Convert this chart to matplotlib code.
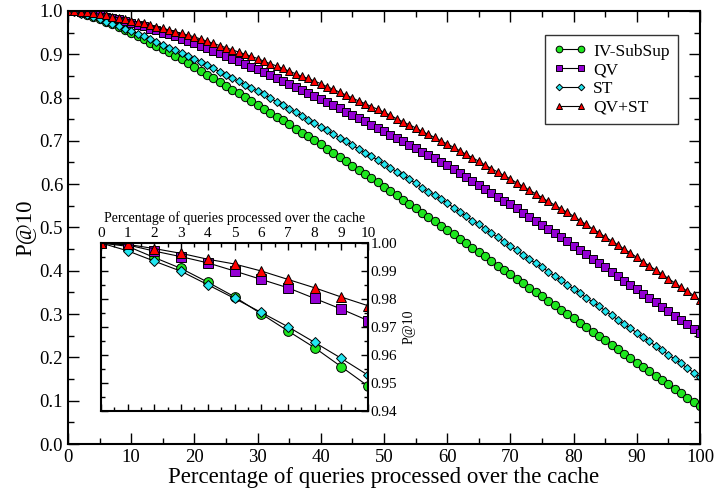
import matplotlib.pyplot as plt
from matplotlib.ticker import MultipleLocator

plt.rcParams['font.family'] = ['Liberation Serif', 'DejaVu Serif']

# percentage of queries processed over the cache (0..100, step 1)
pct = list(range(0, 101))

iv_subsup = [1.0, .9988, .9948, .9909, .9860, .9808, .9747, .9686, .9626, .9558, .9489,
             .942, .935, .927, .920, .912, .904, .896, .888, .880, .871,
             .862, .853, .845, .836, .827, .818, .810, .801, .792, .783,
             .774, .765, .756, .747, .738, .728, .719, .710, .701, .692,
             .682, .672, .663, .653, .643, .633, .623, .614, .604, .594,
             .584, .574, .564, .554, .544, .534, .524, .514, .504, .494,
             .484, .474, .463, .453, .443, .433, .423, .412, .402, .392,
             .382, .372, .361, .351, .341, .331, .321, .310, .300, .290,
             .280, .270, .259, .249, .239, .229, .219, .208, .198, .188,
             .178, .168, .158, .148, .138, .127, .117, .107, .097, .087]

qv = [1.0, .9993, .9971, .9951, .9929, .9900, .9870, .9840, .9802, .9764, .9723,
      .968, .964, .959, .955, .950, .946, .941, .936, .931, .926,
      .920, .914, .908, .902, .896, .890, .884, .878, .871, .865,
      .858, .851, .845, .838, .831, .824, .817, .811, .804, .797,
      .790, .782, .775, .767, .760, .752, .745, .737, .730, .722,
      .714, .706, .699, .691, .683, .675, .667, .660, .652, .644,
      .635, .626, .617, .608, .599, .589, .580, .571, .562, .553,
      .544, .534, .525, .515, .506, .496, .487, .477, .468, .458,
      .448, .438, .428, .418, .408, .397, .387, .377, .367, .357,
      .347, .337, .327, .317, .307, .296, .286, .276, .266, .256]

st = [1.0, .9972, .9935, .9899, .9851, .9802, .9752, .9701, .9645, .9588, .9528,
      .947, .941, .934, .928, .922, .915, .909, .902, .896, .889,
      .882, .874, .867, .860, .852, .845, .837, .830, .822, .815,
      .807, .799, .790, .782, .774, .766, .758, .749, .741, .733,
      .724, .716, .707, .699, .690, .681, .673, .664, .656, .647,
      .638, .629, .620, .611, .602, .592, .583, .574, .565, .556,
      .546, .536, .526, .516, .507, .497, .487, .477, .467, .457,
      .447, .437, .427, .417, .408, .398, .388, .378, .368, .358,
      .348, .338, .328, .318, .308, .297, .287, .277, .267, .257,
      .247, .237, .226, .216, .206, .196, .186, .175, .165, .155]

qv_st = [1.0, .9995, .9980, .9963, .9942, .9925, .9900, .9870, .9840, .9807, .9776,
         .974, .971, .967, .963, .960, .956, .952, .948, .944, .940,
         .935, .930, .925, .920, .915, .910, .905, .900, .895, .890,
         .884, .878, .873, .867, .861, .855, .849, .844, .838, .832,
         .825, .819, .812, .806, .799, .792, .786, .779, .773, .766,
         .759, .751, .744, .737, .730, .722, .715, .708, .700, .693,
         .685, .677, .669, .661, .653, .644, .636, .628, .620, .612,
         .603, .595, .586, .578, .569, .560, .552, .543, .535, .526,
         .516, .507, .497, .488, .478, .469, .460, .450, .441, .431,
         .421, .411, .402, .392, .382, .372, .362, .353, .343, .333]

labels = ['IV-SubSup', 'QV', 'ST', 'QV+ST']
series = [iv_subsup, qv, st, qv_st]
colors = ['#1ee61e', '#9400d3', '#22e6f0', '#ff0000']
markers = ['o', 's', 'D', '^']
main_sizes = [6, 5.5, 4.2, 5.5]
inset_sizes = [7, 6.5, 5.5, 7]

fig = plt.figure(figsize=(7.15, 4.95), dpi=100)
ax = fig.add_axes([0.0951, 0.103, 0.8839, 0.875])

for y, lab, c, m, ms in zip(series, labels, colors, markers, main_sizes):
    ax.plot(pct, y, color='black', lw=0.8, marker=m, ms=ms, mfc=c, mec='black',
            mew=0.7, label=lab)

ax.set_xlim(0, 100)
ax.set_ylim(0, 1)
ax.xaxis.set_major_locator(MultipleLocator(10))
ax.xaxis.set_minor_locator(MultipleLocator(5))
ax.yaxis.set_major_locator(MultipleLocator(0.1))
ax.yaxis.set_minor_locator(MultipleLocator(0.05))
ax.tick_params(which='both', direction='in', top=True, right=True, labelsize=13.5, width=1)
ax.tick_params(which='major', length=8)
ax.tick_params(which='minor', length=4)
ax.set_xlabel('Percentage of queries processed over the cache', fontsize=16.5, labelpad=1)
ax.set_ylabel('P@10', fontsize=16.5, labelpad=3)
for s in ax.spines.values():
    s.set_linewidth(1.5)

leg = ax.legend(loc='upper right', bbox_to_anchor=(0.966, 0.945), fontsize=12.5,
                numpoints=2, handlelength=1.9, frameon=True, fancybox=False,
                borderpad=0.5, labelspacing=0.15, handletextpad=0.4, markerscale=0.8,
                borderaxespad=0)
leg.get_frame().set_edgecolor('black')
leg.get_frame().set_linewidth(1)

# inset: first 10% of queries
ins = fig.add_axes([0.1413, 0.1697, 0.3734, 0.3394])
for y, c, m, ms in zip(series, colors, markers, inset_sizes):
    ins.plot(pct[:11], y[:11], color='black', lw=0.8, marker=m, ms=ms, mfc=c,
             mec='black', mew=0.7)
ins.set_xlim(0, 10)
ins.set_ylim(0.94, 1.0)
ins.xaxis.set_major_locator(MultipleLocator(1))
ins.xaxis.set_minor_locator(MultipleLocator(0.5))
ins.yaxis.set_major_locator(MultipleLocator(0.01))
ins.yaxis.set_minor_locator(MultipleLocator(0.005))
ins.xaxis.tick_top()
ins.xaxis.set_label_position('top')
ins.yaxis.tick_right()
ins.yaxis.set_label_position('right')
ins.tick_params(which='both', direction='in', top=True, bottom=True, left=True, right=True,
                labelsize=11, width=1, pad=2)
ins.tick_params(which='major', length=5)
ins.tick_params(which='minor', length=3)
ins.set_yticks([0.94, 0.95, 0.96, 0.97, 0.98, 0.99, 1.00])
ins.set_yticklabels(['0.94', '0.95', '0.96', '0.97', '0.98', '0.99', '1.00'])
ins.set_xlabel('Percentage of queries processed over the cache', fontsize=10, labelpad=4)
ins.set_ylabel('P@10', fontsize=10, labelpad=4)
for s in ins.spines.values():
    s.set_linewidth(1.5)

fig.savefig('out.png', dpi=100)
